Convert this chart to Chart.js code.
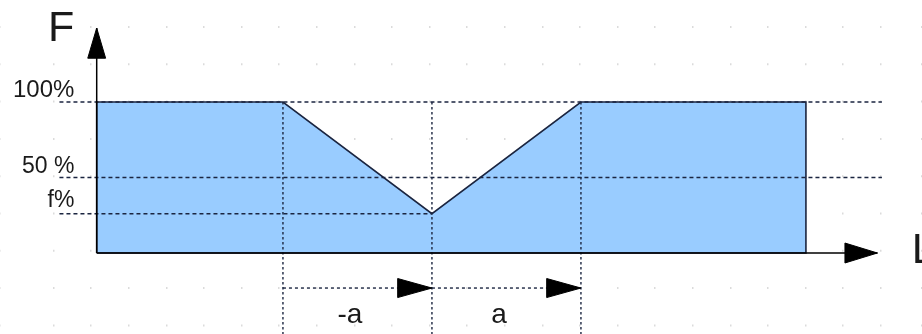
<!DOCTYPE html>
<html>
<head>
<meta charset="utf-8">
<script src="https://cdn.jsdelivr.net/npm/chart.js@4/dist/chart.umd.min.js"></script>
<style>
  html, body { margin: 0; padding: 0; background: #fff; }
  #c { display: block; }
</style>
</head>
<body>
<canvas id="c" width="922" height="334"></canvas>
<script>
// profile of F along L (a = 1 unit, f = 26 %)
const shapeL = [-2.25, -2.25, -1, 0, 1, 2.51, 2.51, -2.25];
const shapeF = [0, 100, 100, 26, 100, 100, 0, 0];

// reference levels on the F axis
const levelF = [100, 50, 26];
const levelLabels = ['100%', '50 %', 'f%'];
const levelEnd = [3.02, 3.02, 0];

// marks on the L axis
const markL = [-1, 0, 1];
const arrowLabels = ['-a', 'a'];
const arrowF = -23.2;

const axisL = { start: -2.25, end: 2.99 };
const axisF = { start: 0, end: 149 };

const ink = '#1b2540';

const pts = (xs, ys) => xs.map((x, i) => ({ x: x, y: ys[i] }));

const datasets = [];

// filled profile
datasets.push({
  data: pts(shapeL, shapeF),
  backgroundColor: 'rgb(153, 204, 255)',
  borderColor: ink,
  borderWidth: 1.6,
  fill: 'shape',
  order: 5
});

// dashed level lines
levelF.forEach((f, i) => {
  datasets.push({
    data: pts([-2.5, levelEnd[i]], [f, f]),
    borderColor: ink,
    borderWidth: 1.4,
    borderDash: [4, 3],
    order: 2
  });
});

// vertical dotted lines at -a, 0, a
markL.forEach(l => {
  datasets.push({
    data: pts([l, l], [100, -53.6]),
    borderColor: ink,
    borderWidth: 1.4,
    borderDash: [2.5, 2.5],
    order: 2
  });
});

// -a and a arrows
for (let i = 0; i < markL.length - 1; i++) {
  const a0 = markL[i], a1 = markL[i + 1];
  datasets.push({
    data: pts([a0, a1], [arrowF, arrowF]),
    borderColor: ink,
    borderWidth: 1.4,
    borderDash: [3, 3],
    order: 2
  });
  datasets.push({
    data: pts([a1 - 0.23, a1, a1 - 0.23, a1 - 0.23], [arrowF + 6.3, arrowF, arrowF - 6.3, arrowF + 6.3]),
    backgroundColor: '#000',
    borderColor: '#000',
    borderWidth: 1,
    fill: 'shape',
    order: 1
  });
}

// L axis with arrow head
datasets.push({
  data: pts([axisL.start, axisL.end], [0, 0]),
  borderColor: '#000',
  borderWidth: 1.5,
  order: 1
});
datasets.push({
  data: pts([2.772, axisL.end, 2.772, 2.772], [6.6, 0, -6.6, 6.6]),
  backgroundColor: '#000',
  borderColor: '#000',
  borderWidth: 1,
  fill: 'shape',
  order: 1
});

// F axis with arrow head
datasets.push({
  data: pts([-2.25, -2.25], [axisF.start, axisF.end]),
  borderColor: '#000',
  borderWidth: 1.5,
  order: 1
});
datasets.push({
  data: pts([-2.31, -2.25, -2.19, -2.31], [129, axisF.end, 129, 129]),
  backgroundColor: '#000',
  borderColor: '#000',
  borderWidth: 1,
  fill: 'shape',
  order: 1
});

// text labels placed through the scales
const labelPlugin = {
  id: 'labels',
  afterDraw(chart) {
    const { ctx, scales: { x, y } } = chart;
    ctx.save();
    ctx.fillStyle = '#1a1a1a';
    ctx.textBaseline = 'alphabetic';

    ctx.textAlign = 'right';
    ctx.font = '24px "Liberation Sans", Arial, sans-serif';
    ctx.fillText(levelLabels[0], x.getPixelForValue(-2.40), y.getPixelForValue(levelF[0]) - 5);
    ctx.font = '23px "Liberation Sans", Arial, sans-serif';
    ctx.fillText(levelLabels[1], x.getPixelForValue(-2.40), y.getPixelForValue(levelF[1]) - 5);
    ctx.fillText(levelLabels[2], x.getPixelForValue(-2.40), y.getPixelForValue(levelF[2]) - 7);

    ctx.font = '43px "Liberation Sans", Arial, sans-serif';
    ctx.fillText('F', x.getPixelForValue(-2.40), y.getPixelForValue(axisF.end) + 13);
    ctx.textAlign = 'left';
    ctx.fillText('L', x.getPixelForValue(3.22), y.getPixelForValue(0) + 10);

    ctx.textAlign = 'center';
    ctx.font = '28px "Liberation Sans", Arial, sans-serif';
    for (let i = 0; i < arrowLabels.length; i++) {
      const mid = (markL[i] + markL[i + 1]) / 2;
      ctx.fillText(arrowLabels[i], x.getPixelForValue(mid - 0.05), y.getPixelForValue(arrowF) + 35);
    }
    ctx.restore();
  }
};

new Chart(document.getElementById('c').getContext('2d'), {
  type: 'scatter',
  data: { datasets: datasets },
  options: {
    responsive: false,
    animation: false,
    showLine: true,
    layout: { padding: 0 },
    elements: { point: { radius: 0, hoverRadius: 0 }, line: { tension: 0 } },
    plugins: { legend: { display: false }, tooltip: { enabled: false } },
    scales: {
      x: { type: 'linear', display: false, min: -2.899, max: 3.289 },
      y: { type: 'linear', display: false, min: -53.64, max: 167.55 },
      // faint background dot grid
      gx: {
        type: 'linear', axis: 'x', position: 'bottom', min: -16, max: 906,
        ticks: { display: false, stepSize: 37.6 },
        border: { display: false, dash: [2, 35.3], dashOffset: 11.3 },
        grid: { drawTicks: false, color: 'rgba(0,0,0,0.14)', lineWidth: 1.5 }
      }
    }
  },
  plugins: [labelPlugin]
});
</script>
</body>
</html>
